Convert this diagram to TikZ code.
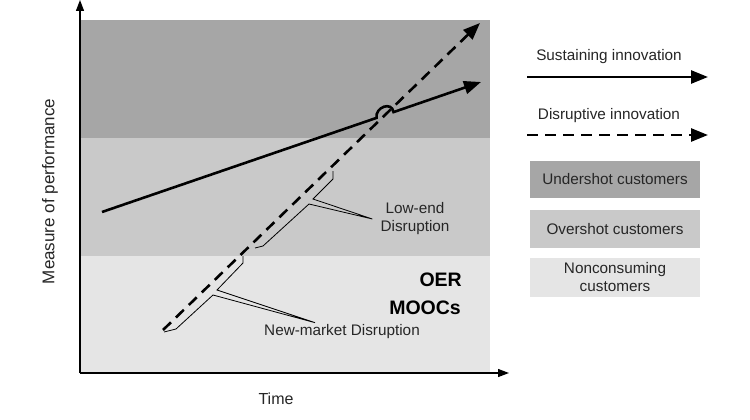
\documentclass[tikz,border=0pt]{standalone}
\usepackage{fontspec}
\setmainfont{Liberation Sans}
\usetikzlibrary{arrows.meta,positioning}
\definecolor{undershot}{gray}{0.65}
\definecolor{overshot}{gray}{0.79}
\definecolor{noncons}{gray}{0.90}
\definecolor{ink}{gray}{0.15}

\begin{document}
\begin{tikzpicture}[x=1pt,y=-1pt,
    lbl/.style={font=\fontsize{15.3}{18}\selectfont, text=ink, inner sep=1pt, align=center},
    big/.style={font=\fontsize{19.5}{22}\selectfont\bfseries, inner sep=0pt, anchor=east},
    axis/.style={line width=1.3pt, -{Triangle[length=11pt,width=8pt]}},
    sust/.style={line width=2.6pt, -{Triangle[length=17pt,width=13pt]}},
    disr/.style={sust, dash pattern=on 11pt off 7pt},
    brace/.style={line width=0.8pt},
    keybox/.style={lbl, minimum width=170pt, inner sep=0pt}]
  \useasboundingbox (0,0) rectangle (750,420);
  \fill[white] (0,0) rectangle (750,420);
  % customer bands
  \fill[undershot] (80,20) rectangle (490,138);
  \fill[overshot] (80,138) rectangle (490,256);
  \fill[noncons] (80,256) rectangle (490,373);
  % axes
  \coordinate (O) at (80,373);
  \coordinate (ytop) at (80,0);
  \coordinate (xend) at (509,373);
  \draw[axis] (O) -- (ytop);
  \draw[axis] (O) -- (xend);
  \node[lbl, font=\fontsize{17}{20}\selectfont, rotate=90] (perf) at (50,191.5) {Measure of performance};
  \node[lbl, font=\fontsize{16}{19}\selectfont] (time) at (276,399) {Time};

  % disruptive innovation
  \coordinate (d0) at (163,330);
  \coordinate (d1) at (480,23);
  \draw[disr] (d0) -- (d1);
  % sustaining innovation, hopping over the dashed one
  \coordinate (s0) at (102,212);
  \coordinate (h0) at (376.5,117.9);
  \coordinate (h1) at (393.5,112.1);
  \coordinate (s1) at (481,82);
  \draw[sust] (s0) -- (h0) .. controls +(-1.5,-11) and +(-1.5,-11) .. (h1) -- (s1);

  % labels on the disruptive line
  \node[lbl] (lowend) at (415,219) {Low-end\\Disruption};
  \coordinate (lowtip) at ([xshift=-7pt]lowend.west);
  \draw[brace] (333,171) -- (333,179) -- (313,199) -- (lowtip) -- (309,204) -- (263,246) -- (255,248);
  \node[lbl] (newmkt) at (342,332) {New-market Disruption};
  \coordinate (nmtip) at ([xshift=-27pt,yshift=1pt]newmkt.north);
  \draw[brace] (243,256) -- (243,263) -- (217,290) -- (nmtip) -- (213,295) -- (176,329) -- (164,332);
  \node[big] (oer) at (462,280) {OER};
  \node[big] (moocs) at (461,308) {MOOCs};

  % legend
  \node[lbl] (sustkey) at (609,57) {Sustaining innovation};
  \coordinate (k0) at (527,77);
  \coordinate (k1) at (708,77);
  \draw[sust] (k0) -- (k1);
  \node[lbl] (disrkey) at (609,116) {Disruptive innovation};
  \coordinate (k2) at (527,135);
  \coordinate (k3) at (708,135);
  \draw[disr] (k2) -- (k3);
  \node[keybox, fill=undershot, minimum height=37pt] (under) at (615,179.5) {Undershot customers};
  \node[keybox, fill=overshot, minimum height=38pt, below=12pt of under] (over) {Overshot customers};
  \node[keybox, fill=noncons, minimum height=39pt, below=9pt of over] (nonc) {Nonconsuming\\customers};
\end{tikzpicture}
\end{document}
